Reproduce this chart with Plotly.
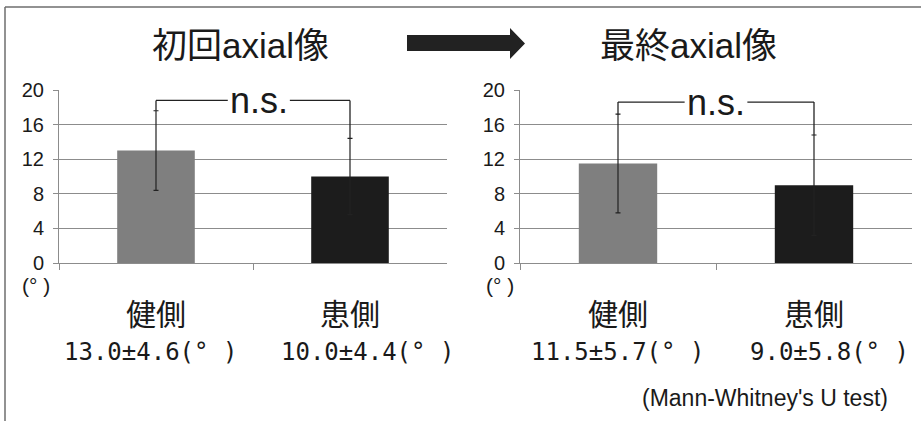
import plotly.graph_objects as go

# Data: mean and SD of the angle (degrees), healthy vs affected side
categories = ["健側", "患側"]
panel_titles = ["初回axial像", "最終axial像"]
initial_mean = [13.0, 10.0]
initial_sd = [4.6, 4.4]
final_mean = [11.5, 9.0]
final_sd = [5.7, 5.8]
y_ticks = [0, 4, 8, 12, 16, 20]
sig_label = "n.s."
test_note = "(Mann-Whitney's U test)"

W, H = 921, 421
bar_colors = ["#7f7f7f", "#1c1c1c"]
grid_col = "#8c8c8c"
JP = "Liberation Sans, Noto Sans CJK JP, sans-serif"
MONO = "DejaVu Sans Mono, Noto Sans CJK JP, monospace"


def px(x):
    return x / W


def py(y):
    return 1 - y / H


panels = [
    dict(mean=initial_mean, sd=initial_sd, xa="x", ya="y",
         dom=[px(59), px(447)], title_x=240, unit_x=36, ns_shift=0.03, bracket=18.8),
    dict(mean=final_mean, sd=final_sd, xa="x2", ya="y2",
         dom=[px(520), px(912)], title_x=688, unit_x=500, ns_shift=0.0, bracket=18.6),
]
value_centers = [[150, 367], [617, 829]]

fig = go.Figure()
shapes = []
annotations = []

for i, p in enumerate(panels):
    fig.add_trace(go.Bar(
        x=categories, y=p["mean"], xaxis=p["xa"], yaxis=p["ya"],
        marker=dict(color=bar_colors, line=dict(width=0)),
        error_y=dict(type="data", array=p["sd"], visible=True,
                     color="#222222", thickness=1.2, width=2.5),
        showlegend=False, hoverinfo="skip",
    ))

    # significance bracket between the two error-bar tops
    tops = [m + s for m, s in zip(p["mean"], p["sd"])]
    by = p["bracket"]
    gap = 0.16
    cx = 0.5 + p["ns_shift"]
    line = dict(color="#222222", width=1.3)
    shapes += [
        dict(type="line", xref=p["xa"], yref=p["ya"], x0=0, x1=0, y0=tops[0], y1=by, line=line),
        dict(type="line", xref=p["xa"], yref=p["ya"], x0=0, x1=cx - gap, y0=by, y1=by, line=line),
        dict(type="line", xref=p["xa"], yref=p["ya"], x0=cx + gap, x1=1, y0=by, y1=by, line=line),
        dict(type="line", xref=p["xa"], yref=p["ya"], x0=1, x1=1, y0=by, y1=tops[1], line=line),
    ]
    annotations.append(dict(
        x=cx, y=by, xref=p["xa"], yref=p["ya"], text=sig_label, showarrow=False,
        font=dict(family="Liberation Sans, Arial", size=36, color="#1a1a1a"),
        xanchor="center", yanchor="middle",
    ))

    # panel title
    annotations.append(dict(
        x=px(p["title_x"]), y=py(45), xref="paper", yref="paper", text=panel_titles[i],
        showarrow=False, font=dict(family=JP, size=35, color="#1a1a1a"),
        xanchor="center", yanchor="middle",
    ))
    # unit label under the y axis
    annotations.append(dict(
        x=px(p["unit_x"]), y=py(285), xref="paper", yref="paper", text="(° )",
        showarrow=False, font=dict(family=JP, size=21, color="#1a1a1a"),
        xanchor="center", yanchor="middle",
    ))
    # category names and mean ± SD text
    for j, cat in enumerate(categories):
        annotations.append(dict(
            x=j, y=py(312), xref=p["xa"], yref="paper", text=cat, showarrow=False,
            font=dict(family="Noto Sans CJK JP", size=30, color="#1a1a1a"),
            xanchor="center", yanchor="middle",
        ))
        annotations.append(dict(
            x=px(value_centers[i][j]), y=py(352), xref="paper", yref="paper",
            text=f"{p['mean'][j]:.1f}±{p['sd'][j]:.1f}(° )", showarrow=False,
            font=dict(family=MONO, size=24, color="#1a1a1a"),
            xanchor="center", yanchor="middle",
        ))

annotations.append(dict(
    x=px(765), y=py(398), xref="paper", yref="paper", text=test_note, showarrow=False,
    font=dict(family="Liberation Sans, Arial", size=23, color="#1a1a1a"),
    xanchor="center", yanchor="middle",
))

# frame lines (left and top)
frame = dict(color="#6e6e6e", width=1.5)
shapes += [
    dict(type="line", xref="paper", yref="paper", x0=px(5), x1=px(5), y0=0, y1=py(7), line=frame),
    dict(type="line", xref="paper", yref="paper", x0=px(5), x1=1, y0=py(7), y1=py(7), line=frame),
]

# block arrow between the two panels
pts = [(407, 35), (510, 35), (510, 28), (525, 43.5), (510, 59), (510, 51), (407, 51)]
path = "M " + " L ".join(f"{px(x):.5f},{py(y):.5f}" for x, y in pts) + " Z"
shapes.append(dict(type="path", xref="paper", yref="paper", path=path,
                   fillcolor="#222222", line=dict(width=0)))

xaxis_common = dict(
    type="category", showline=True, linecolor=grid_col, linewidth=1,
    ticks="outside", tickson="boundaries", ticklen=6, tickcolor=grid_col,
    showticklabels=False, showgrid=False, zeroline=False, fixedrange=True,
    automargin=False,
)
yaxis_common = dict(
    range=[0, 20], tickvals=y_ticks, ticks="outside", ticklen=5, tickcolor=grid_col,
    showline=True, linecolor=grid_col, linewidth=1,
    showgrid=True, gridcolor=grid_col, gridwidth=1, zeroline=False,
    tickfont=dict(family="Liberation Sans, Arial", size=20, color="#1a1a1a"),
    ticklabelstandoff=5, domain=[py(263), py(90)], fixedrange=True,
    automargin=False,
)

fig.update_layout(
    width=W, height=H, margin=dict(l=0, r=0, t=0, b=0, pad=0, autoexpand=False),
    autosize=False,
    paper_bgcolor="white", plot_bgcolor="white",
    bargap=0.6,
    xaxis=dict(domain=panels[0]["dom"], anchor="y", **xaxis_common),
    xaxis2=dict(domain=panels[1]["dom"], anchor="y2", **xaxis_common),
    yaxis=dict(anchor="x", **yaxis_common),
    yaxis2=dict(anchor="x2", **yaxis_common),
    shapes=shapes, annotations=annotations,
)

fig.write_html("out.html", config={"responsive": False, "displayModeBar": False})
